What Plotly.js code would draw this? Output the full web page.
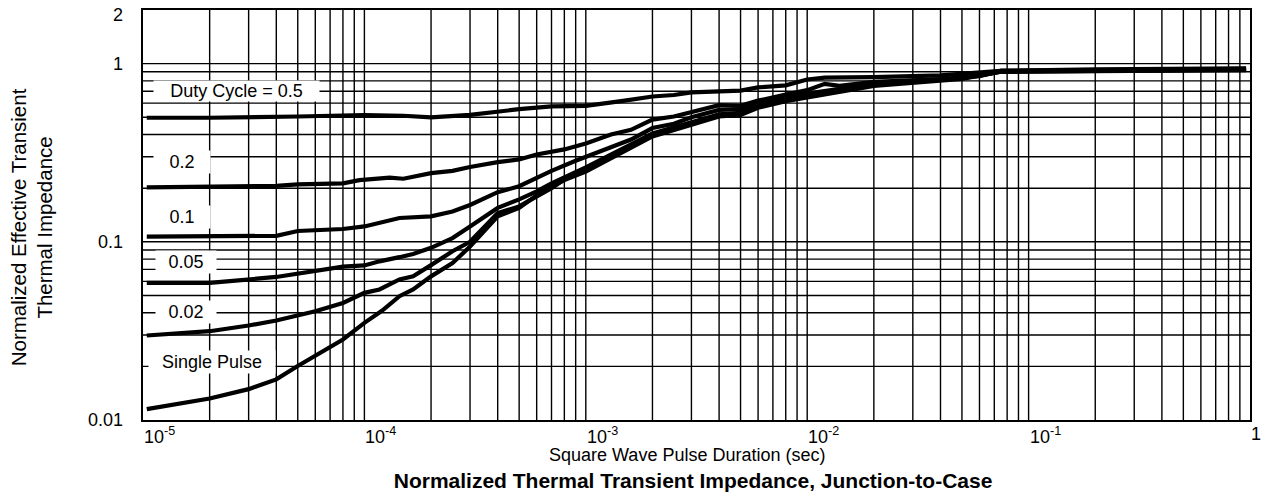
<!DOCTYPE html>
<html><head><meta charset="utf-8">
<script src="https://cdn.plot.ly/plotly-3.0.1.min.js"></script>
<style>
html,body{margin:0;padding:0;background:#fff;}
#chart{width:1267px;height:496px;}
#chart .gridlayer path, #chart .crisp { shape-rendering: geometricPrecision !important; }
</style>
</head><body><div id="chart"></div>
<script>
// ---- data ----
const duty05T = [1.04e-5, 2e-5, 5e-5, 1e-4, 1.5e-4, 2e-4, 3e-4, 4e-4, 5e-4, 7e-4, 1e-3, 1.5e-3, 2e-3, 2.5e-3, 3e-3, 5e-3, 6e-3, 8e-3, 1e-2, 1.2e-2, 2e-2, 4e-2, 7.5e-2, 0.2, 0.96];
const duty05Z = [0.497, 0.497, 0.505, 0.515, 0.51, 0.50, 0.516, 0.54, 0.555, 0.575, 0.58, 0.62, 0.654, 0.667, 0.69, 0.705, 0.735, 0.755, 0.815, 0.835, 0.84, 0.86, 0.91, 0.93, 0.94];

const duty02T = [1.04e-5, 2e-5, 4e-5, 5e-5, 8e-5, 9.5e-5, 1.3e-4, 1.5e-4, 2e-4, 2.5e-4, 3e-4, 4e-4, 5e-4, 6e-4, 8e-4, 1e-3, 1.3e-3, 1.6e-3, 2e-3, 2.5e-3, 3e-3, 4e-3, 5e-3, 6e-3, 8e-3, 1e-2, 1.2e-2, 1.4e-2, 2e-2, 4e-2, 6e-2, 7.5e-2, 0.96];
const duty02Z = [0.202, 0.205, 0.206, 0.21, 0.213, 0.222, 0.229, 0.226, 0.243, 0.25, 0.263, 0.28, 0.29, 0.309, 0.33, 0.356, 0.40, 0.425, 0.485, 0.505, 0.535, 0.585, 0.58, 0.62, 0.67, 0.71, 0.77, 0.75, 0.79, 0.82, 0.85, 0.91, 0.935];

const duty01T = [1.04e-5, 2e-5, 3e-5, 4e-5, 5e-5, 8e-5, 1e-4, 1.17e-4, 1.44e-4, 2e-4, 2.5e-4, 3e-4, 4e-4, 5e-4, 6e-4, 7e-4, 9e-4, 1e-3, 1.3e-3, 1.6e-3, 2e-3, 2.5e-3, 3e-3, 4e-3, 5e-3, 6e-3, 8e-3, 1e-2, 2e-2, 5e-2, 7.5e-2, 0.96];
const duty01Z = [0.107, 0.108, 0.109, 0.108, 0.115, 0.118, 0.122, 0.1286, 0.136, 0.139, 0.148, 0.161, 0.19, 0.205, 0.23, 0.25, 0.285, 0.30, 0.34, 0.375, 0.435, 0.46, 0.50, 0.55, 0.555, 0.61, 0.65, 0.68, 0.77, 0.83, 0.91, 0.93];

const duty005T = [1.04e-5, 2e-5, 4e-5, 6e-5, 8e-5, 1e-4, 1.17e-4, 1.44e-4, 1.66e-4, 2e-4, 2.5e-4, 3e-4, 4e-4, 5e-4, 6e-4, 7e-4, 1e-3, 2e-3, 3e-3, 4e-3, 5e-3, 6e-3, 8e-3, 1e-2, 2e-2, 5e-2, 7.5e-2, 0.96];
const duty005Z = [0.0588, 0.0588, 0.0635, 0.0683, 0.0725, 0.0737, 0.0777, 0.082, 0.0855, 0.0925, 0.105, 0.122, 0.155, 0.173, 0.192, 0.213, 0.262, 0.405, 0.465, 0.52, 0.53, 0.578, 0.628, 0.655, 0.763, 0.83, 0.905, 0.928];

const duty002T = [1.04e-5, 2e-5, 3e-5, 4e-5, 6e-5, 8e-5, 1e-4, 1.17e-4, 1.44e-4, 1.66e-4, 2e-4, 2.5e-4, 3e-4, 4e-4, 5e-4, 6e-4, 7e-4, 8e-4, 1e-3, 2e-3, 3e-3, 4e-3, 5e-3, 6e-3, 8e-3, 1e-2, 2e-2, 5e-2, 7.5e-2, 0.96];
const duty002Z = [0.0298, 0.0315, 0.0339, 0.0362, 0.0408, 0.0454, 0.0517, 0.054, 0.0615, 0.064, 0.074, 0.0885, 0.1, 0.145, 0.158, 0.18, 0.2, 0.224, 0.255, 0.40, 0.46, 0.515, 0.525, 0.575, 0.625, 0.652, 0.76, 0.828, 0.9, 0.925];

const singleT = [1.04e-5, 2e-5, 3e-5, 4e-5, 5e-5, 8e-5, 1e-4, 1.2e-4, 1.44e-4, 1.66e-4, 2e-4, 2.5e-4, 3e-4, 4e-4, 5e-4, 6.5e-4, 8e-4, 1e-3, 2e-3, 3e-3, 4e-3, 5e-3, 6e-3, 8e-3, 1e-2, 2e-2, 5e-2, 7.5e-2, 0.96];
const singleZ = [0.0115, 0.0132, 0.0149, 0.0169, 0.0201, 0.0283, 0.0351, 0.041, 0.0495, 0.054, 0.064, 0.076, 0.094, 0.139, 0.155, 0.196, 0.222, 0.248, 0.39, 0.45, 0.505, 0.515, 0.565, 0.615, 0.645, 0.75, 0.82, 0.9, 0.92];

const seriesNames = ['Duty Cycle = 0.5', '0.2', '0.1', '0.05', '0.02', 'Single Pulse'];

// grid / tick values
const xGridVals = [1e-5,2e-5,3e-5,4e-5,5e-5,6e-5,7e-5,8e-5,9e-5,
                   1e-4,2e-4,3e-4,4e-4,5e-4,6e-4,7e-4,8e-4,9e-4,
                   1e-3,2e-3,3e-3,4e-3,5e-3,6e-3,7e-3,8e-3,9e-3,
                   1e-2,2e-2,3e-2,4e-2,5e-2,6e-2,7e-2,8e-2,9e-2,
                   0.1,0.2,0.3,0.4,0.5,0.6,0.7,0.8,0.9,1];
const yGridVals = [0.01,0.02,0.03,0.04,0.05,0.06,0.07,0.08,0.09,
                   0.1,0.2,0.3,0.4,0.5,0.6,0.7,0.8,0.9,1,2];
const xTickVals = [1e-5, 1e-4, 1e-3, 1e-2, 1e-1, 1];
const xTickText = ['10<sup>-5</sup>', '10<sup>-4</sup>', '10<sup>-3</sup>', '10<sup>-2</sup>', '10<sup>-1</sup>', '1'];
const yTickVals = [2, 1, 0.1, 0.01];
const yTickText = ['2', '1', '0.1', '0.01'];

const xTitle = 'Square Wave Pulse Duration (sec)';
const yTitle = 'Normalized Effective Transient<br>Thermal Impedance';
const mainTitle = 'Normalized Thermal Transient Impedance, Junction-to-Case';

// ---- figure ----
const FONT = 'Liberation Sans, Arial, Helvetica, sans-serif';
const pairs = [[duty05T,duty05Z],[duty02T,duty02Z],[duty01T,duty01Z],[duty005T,duty005Z],[duty002T,duty002Z],[singleT,singleZ]];
const traces = pairs.map((p, i) => ({
  type: 'scatter', mode: 'lines', x: p[0], y: p[1], name: seriesNames[i],
  line: {color: '#000', width: 4.2}, hoverinfo: 'skip'
}));

const annotations = [];
// in-plot curve labels (paper coords), white boxes over the grid
const labelBoxes = [
  {text: seriesNames[0], x: 0.0849, y: 0.803, w: 165, h: 20},
  {text: seriesNames[1], x: 0.0352, y: 0.629, w: 56, h: 22},
  {text: seriesNames[2], x: 0.0352, y: 0.496, w: 56, h: 22},
  {text: seriesNames[3], x: 0.0388, y: 0.386, w: 60, h: 22},
  {text: seriesNames[4], x: 0.0388, y: 0.264, w: 60, h: 22},
  {text: seriesNames[5], x: 0.0623, y: 0.142, w: 126, h: 22}
];
labelBoxes.forEach(b => annotations.push({
  text: b.text, xref: 'paper', yref: 'paper', x: b.x, y: b.y,
  xanchor: 'center', yanchor: 'middle', showarrow: false,
  width: b.w, height: b.h, align: 'center', valign: 'middle',
  bgcolor: '#fff', borderpad: 0, font: {family: FONT, size: 18, color: '#000'}
}));
// x tick labels
xTickVals.forEach((v, i) => annotations.push({
  text: xTickText[i], xref: 'x', yref: 'paper', x: Math.log10(v), y: 0,
  xanchor: 'left', yanchor: 'top', xshift: -1, yshift: -2, showarrow: false,
  font: {family: FONT, size: 18, color: '#000'}
}));
// y tick labels
yTickVals.forEach((v, i) => annotations.push({
  text: yTickText[i], xref: 'paper', yref: 'y', x: -0.0163, y: Math.log10(v),
  xanchor: 'right', yanchor: 'middle', yshift: (i === 0 ? -5 : 0), showarrow: false,
  font: {family: FONT, size: 18, color: '#000'}
}));
// axis titles
annotations.push({
  text: xTitle, xref: 'paper', yref: 'paper', x: 0.491, y: -0.086,
  xanchor: 'center', yanchor: 'middle', showarrow: false,
  font: {family: FONT, size: 18, color: '#000'}
});
annotations.push({
  text: yTitle, xref: 'paper', yref: 'paper', x: -0.1003, y: 0.47, textangle: -90,
  xanchor: 'center', yanchor: 'middle', showarrow: false,
  font: {family: FONT, size: 20.5, color: '#000'}
});

const axisCommon = {
  type: 'log', showgrid: true, gridcolor: '#000', gridwidth: 1.4,
  showline: true, linecolor: '#000', linewidth: 2, mirror: true,
  ticks: '', showticklabels: false, zeroline: false, fixedrange: true
};

const layout = {
  width: 1267, height: 496,
  margin: {l: 143, r: 17, t: 10, b: 76, pad: 0},
  paper_bgcolor: '#fff', plot_bgcolor: '#fff',
  showlegend: false,
  font: {family: FONT, size: 18, color: '#000'},
  title: {
    text: '<b>' + mainTitle + '</b>', font: {family: FONT, size: 21, color: '#000'},
    xref: 'container', yref: 'container', x: 0.547, y: 0.030,
    xanchor: 'center', yanchor: 'middle'
  },
  xaxis: Object.assign({}, axisCommon, {range: [-5, 0], tickvals: xGridVals}),
  yaxis: Object.assign({}, axisCommon, {range: [-2, Math.log10(2)], tickvals: yGridVals}),
  annotations: annotations
};

Plotly.newPlot('chart', traces, layout, {staticPlot: true, displayModeBar: false});
</script></body></html>
